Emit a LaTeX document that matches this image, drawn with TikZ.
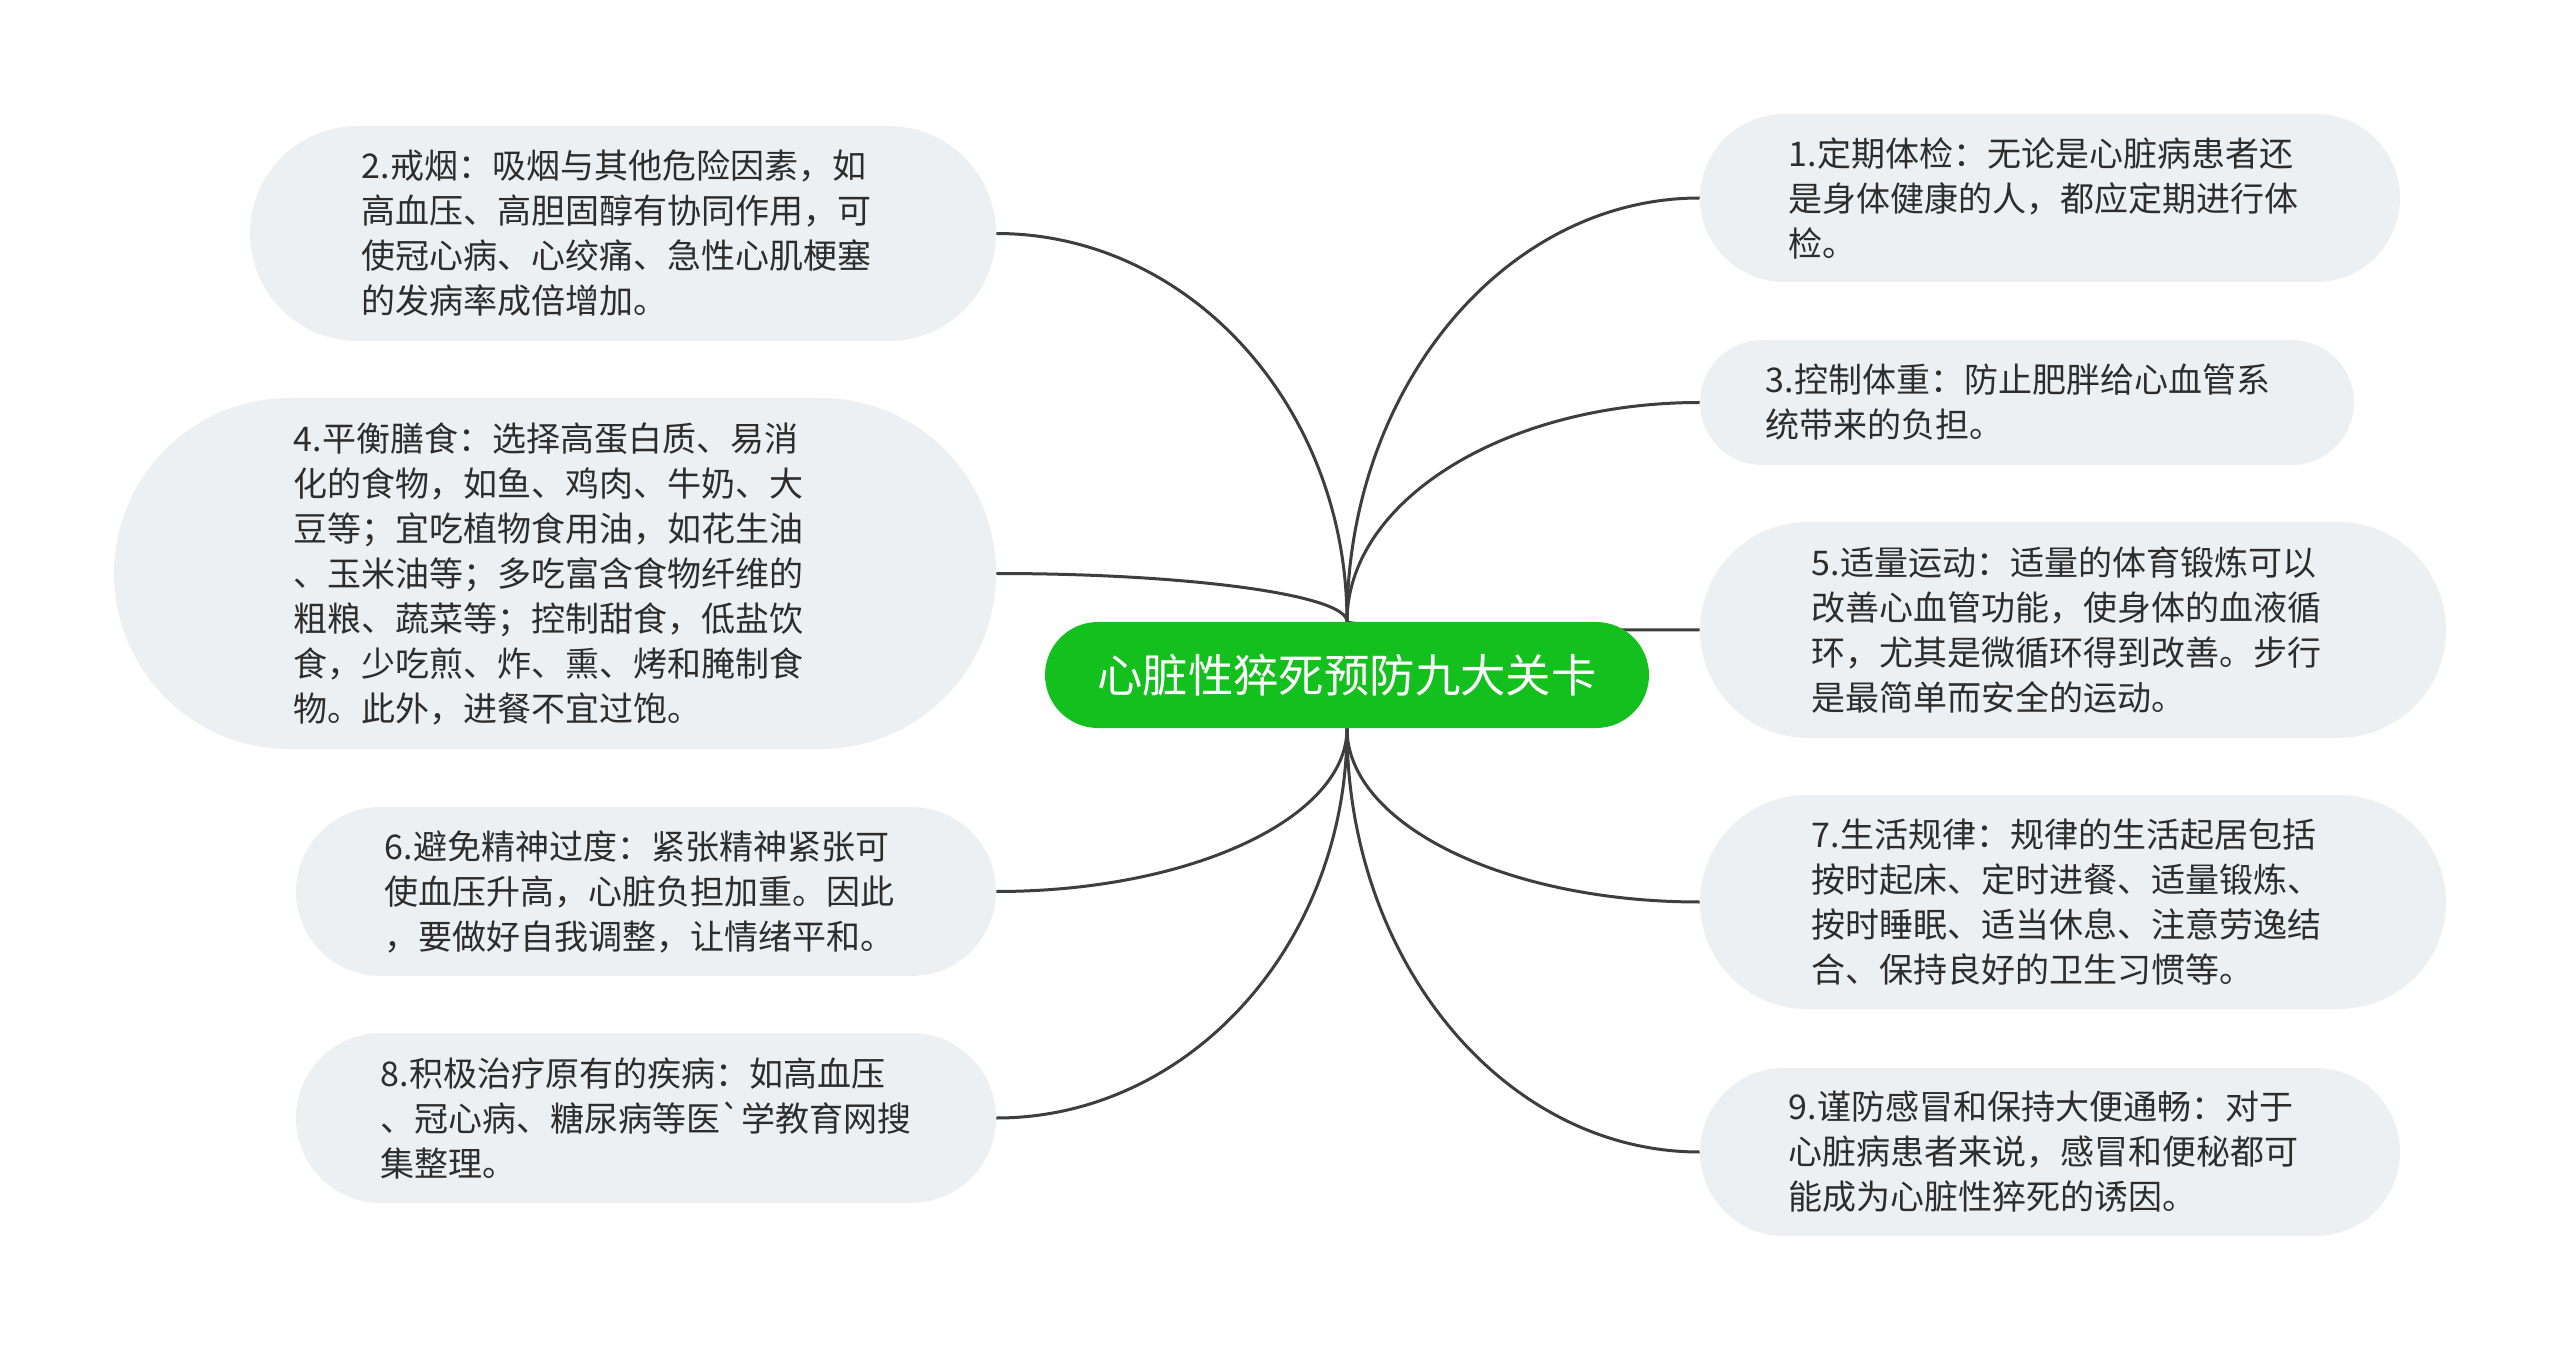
\documentclass[tikz,border=0pt]{standalone}
\usepackage{fontspec}
\setmainfont{Noto Sans CJK SC}
\newfontfamily\rawfont{Noto Sans CJK SC}
\usetikzlibrary{calc,backgrounds}
\definecolor{boxfill}{RGB}{237,240,243}
\definecolor{rootfill}{RGB}{20,192,30}
\definecolor{linecol}{RGB}{62,62,62}
\definecolor{txt}{RGB}{45,45,45}
\newcommand\linkcurve[2]{\draw[conn] let \p1=(#1), \p2=(#2) in (\p1) .. controls (\x1,{\y1+0.552*(\y2-\y1)}) and ({\x2-0.552*(\x2-\x1)},\y2) .. (\p2);}
\newcommand\brk{\hspace*{9pt}\\}
\begin{document}
\begin{tikzpicture}[x=0.5pt,y=-0.5pt,
  leaf/.style n args={3}{fill=boxfill, text=txt, align=left, minimum width=#1, minimum height=#2, rounded corners=#3, inner sep=0pt, font=\fontsize{17pt}{22.5pt}\selectfont},
  rootbox/.style={fill=rootfill, text=white, minimum width=302pt, minimum height=53pt, rounded corners=26.5pt, inner sep=0pt, font=\fontsize{22.7pt}{27pt}\selectfont},
  conn/.style={draw=linecol, line width=1.5pt}]
\useasboundingbox (0,0) rectangle (2560,1352);

\node[rootbox] (c) at (1347,675) {心脏性猝死预防九大关卡};

\node[leaf={373pt}{107.5pt}{53.75pt}] (n2) at (623,233.5) {2.戒烟：吸烟与其他危险因素，如\brk 高血压、高胆固醇有协同作用，可\brk 使冠心病、心绞痛、急性心肌梗塞\brk 的发病率成倍增加。};
\node[leaf={441pt}{175.5pt}{87.75pt}] (n4) at (555,573.5) {4.平衡膳食：选择高蛋白质、易消\brk 化的食物，如鱼、鸡肉、牛奶、大\brk 豆等；宜吃植物食用油，如花生油\brk 、玉米油等；多吃富含食物纤维的\brk 粗粮、蔬菜等；控制甜食，低盐饮\brk 食，少吃煎、炸、熏、烤和腌制食\brk 物。此外，进餐不宜过饱。};
\node[leaf={350pt}{84.5pt}{42.25pt}] (n6) at (646,891.5) {6.避免精神过度：紧张精神紧张可\brk 使血压升高，心脏负担加重。因此\brk ，要做好自我调整，让情绪平和。};
\node[leaf={350pt}{85pt}{42.5pt}] (n8) at (646,1118) {8.积极治疗原有的疾病：如高血压\brk 、冠心病、糖尿病等医{\rawfont`}学教育网搜\brk 集整理。};

\node[leaf={350pt}{84pt}{42pt}] (n1) at (2050,198) {1.定期体检：无论是心脏病患者还\brk 是身体健康的人，都应定期进行体\brk 检。};
\node[leaf={327pt}{62.5pt}{31.25pt}] (n3) at (2027,402.5) {3.控制体重：防止肥胖给心血管系\brk 统带来的负担。};
\node[leaf={373pt}{108pt}{54pt}] (n5) at (2073,630) {5.适量运动：适量的体育锻炼可以\brk 改善心血管功能，使身体的血液循\brk 环，尤其是微循环得到改善。步行\brk 是最简单而安全的运动。};
\node[leaf={373pt}{107pt}{53.5pt}] (n7) at (2073,902) {7.生活规律：规律的生活起居包括\brk 按时起床、定时进餐、适量锻炼、\brk 按时睡眠、适当休息、注意劳逸结\brk 合、保持良好的卫生习惯等。};
\node[leaf={350pt}{84pt}{42pt}] (n9) at (2050,1152) {9.谨防感冒和保持大便通畅：对于\brk 心脏病患者来说，感冒和便秘都可\brk 能成为心脏性猝死的诱因。};

\begin{scope}[on background layer]
\fill[white] (0,0) rectangle (2560,1352);
\linkcurve{c.north}{n2.east}
\linkcurve{c.north}{n4.east}
\linkcurve{c.north}{n1.west}
\linkcurve{c.north}{n3.west}
\linkcurve{c.north}{n5.west}
\linkcurve{c.south}{n6.east}
\linkcurve{c.south}{n8.east}
\linkcurve{c.south}{n7.west}
\linkcurve{c.south}{n9.west}
\end{scope}
\end{tikzpicture}
\end{document}
